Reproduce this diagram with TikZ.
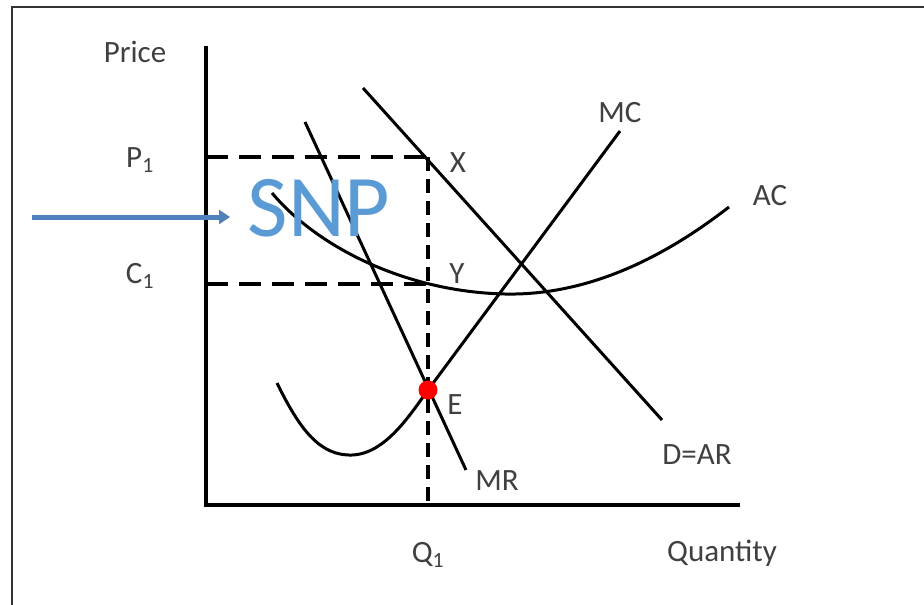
\documentclass[tikz,border=0pt]{standalone}
\usepackage{fontspec}
\setmainfont{Carlito}
\usetikzlibrary{arrows.meta}
\definecolor{txt}{RGB}{64,64,64}
\definecolor{arrowblue}{RGB}{79,129,189}
\definecolor{snpblue}{RGB}{91,155,213}
\tikzset{
  lbl/.style={text=txt,font=\fontsize{31}{37}\selectfont,inner sep=0pt},
  axis/.style={line width=4.5pt,line cap=rect},
  curve/.style={line width=3pt},
  hdash/.style={line width=4pt,dash pattern=on 22pt off 11pt},
  vdash/.style={line width=3.5pt,dash pattern=on 14pt off 8pt},
}
\begin{document}
\begin{tikzpicture}[x=1pt,y=-1pt]
\useasboundingbox (0,0) rectangle (924,605);
\fill[white] (0,0) rectangle (924,605);
% frame
\draw[line width=1.2pt,black!80] (12,605) -- (12,7) -- (924,7);
% key points
\coordinate (O) at (206,505);
\coordinate (ytop) at (206,48);
\coordinate (xend) at (738,505);
\coordinate (P1pt) at (206,157);
\coordinate (C1pt) at (206,284);
\coordinate (Xpt) at (428,157);
\coordinate (Ypt) at (428,284);
\coordinate (Qpt) at (428,505);
\coordinate (Ept) at (428,390);
\coordinate (Dtop) at (363,88);
\coordinate (Dbot) at (662,420);
\coordinate (MRtop) at (305,122);
\coordinate (MRbot) at (466,470);
\coordinate (MCstart) at (277,383);
\coordinate (MCmin) at (352,455);
\coordinate (MCtop) at (620,131);
\coordinate (ACstart) at (272,193);
\coordinate (ACmin) at (505,294);
\coordinate (ACend) at (729,207);
\coordinate (arrowstart) at (32,217);
\coordinate (arrowend) at (230,217);
% dashed guides
\draw[hdash] (P1pt) -- (Xpt);
\draw[hdash] (C1pt) -- (Ypt);
\draw[vdash] (Xpt) -- (Qpt);
% axes
\draw[axis] (ytop) -- (O) -- (xend);
% curves
\draw[curve] (Dtop) -- (Dbot);
\draw[curve] (MRtop) -- (MRbot);
\draw[curve] (MCstart) .. controls (300,430) and (320,456) .. (MCmin)
  .. controls (385,454) and (410,415) .. (Ept) -- (MCtop);
\draw[curve] (ACstart) .. controls (320,250) and (410,292) .. (ACmin)
  .. controls (600,296) and (680,245) .. (ACend);
% equilibrium
\fill[red] (Ept) circle (9.5);
% arrow
\draw[arrowblue,line width=5pt,-{Triangle[length=11pt,width=14pt]}] (arrowstart) -- (arrowend);
% labels
\node[text=snpblue,font=\fontsize{88}{90}\selectfont,inner sep=0pt] (snp) at (319,208) {SNP};
\node[lbl] (price) at (135,52) {Price};
\node[lbl] (p1) at (140,160) {P\textsubscript{1}};
\node[lbl] (c1) at (140,276) {C\textsubscript{1}};
\node[lbl] (xl) at (458,163) {X};
\node[lbl] (yl) at (457,274) {Y};
\node[lbl] (el) at (455,405) {E};
\node[lbl] (mc) at (620,113) {MC};
\node[lbl] (ac) at (770,196) {AC};
\node[lbl] (mr) at (497,481) {MR};
\node[lbl] (dar) at (697,455) {D=AR};
\node[lbl] (q1) at (428,555) {Q\textsubscript{1}};
\node[lbl] (qty) at (722,553) {Quantity};
\end{tikzpicture}
\end{document}
